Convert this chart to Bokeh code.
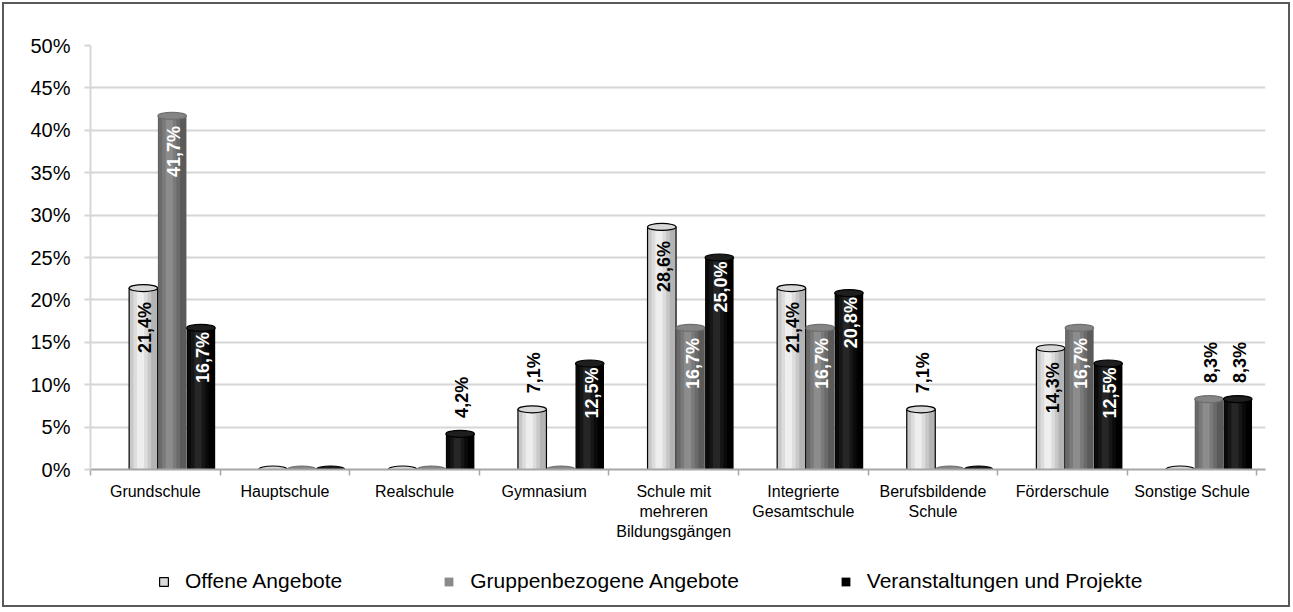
import numpy as np
from bokeh.plotting import figure
from bokeh.layouts import column
from bokeh.models import ColumnDataSource, Range1d, FixedTicker, Legend, LegendItem
from bokeh.transform import dodge
from bokeh.core.properties import value
from bokeh.embed import file_html
from bokeh.resources import INLINE

# ---------------- data ----------------
categories = ["Grundschule", "Hauptschule", "Realschule", "Gymnasium",
              "Schule mit\nmehreren\nBildungsgängen", "Integrierte\nGesamtschule",
              "Berufsbildende\nSchule", "Förderschule", "Sonstige Schule"]
series_names = ["Offene Angebote", "Gruppenbezogene Angebote", "Veranstaltungen und Projekte"]
offene = [21.4, 0.0, 0.0, 7.1, 28.6, 21.4, 7.1, 14.3, 0.0]
gruppen = [41.7, 0.0, 0.0, 0.0, 16.7, 16.7, 0.0, 16.7, 8.3]
veranst = [16.7, 0.0, 4.2, 12.5, 25.0, 20.8, 0.0, 12.5, 8.3]
y_ticks = [0, 5, 10, 15, 20, 25, 30, 35, 40, 45, 50]
y_tick_labels = ["0%", "5%", "10%", "15%", "20%", "25%", "30%", "35%", "40%", "45%", "50%"]

FONT = "Liberation Sans"

p = figure(width=1284, height=545,
           x_range=Range1d(-0.5, 8.566), y_range=Range1d(0, 50),
           output_backend="svg", toolbar_location=None,
           min_border_left=86, min_border_right=23, min_border_top=41, min_border_bottom=80,
           background_fill_color="white", border_fill_color="white")
p.outline_line_color = None

# grid
p.xgrid.visible = False
p.ygrid.ticker = FixedTicker(ticks=y_ticks)
p.ygrid.grid_line_color = "#d6d6d6"
p.ygrid.grid_line_width = 2

# y axis
p.yaxis.ticker = FixedTicker(ticks=y_ticks)
p.yaxis.major_label_overrides = {t: l for t, l in zip(y_ticks, y_tick_labels)}
p.yaxis.major_label_text_font = FONT
p.yaxis.major_label_text_font_size = "20px"
p.yaxis.major_label_text_color = "#000000"
p.yaxis.axis_line_color = "#d6d6d6"
p.yaxis.axis_line_width = 2
p.yaxis.major_tick_line_color = "#d6d6d6"
p.yaxis.major_tick_line_width = 2
p.yaxis.major_tick_out = 6
p.yaxis.major_tick_in = 0
p.yaxis.minor_tick_line_color = None
p.yaxis.major_label_standoff = 14

# x axis
idx = list(range(len(categories)))
p.xaxis.ticker = FixedTicker(ticks=idx, minor_ticks=[i - 0.5 for i in range(len(categories) + 1)])
p.xaxis.major_label_overrides = {i: c for i, c in zip(idx, categories)}
p.xaxis.major_label_text_font = FONT
p.xaxis.major_label_text_font_size = "16px"
p.xaxis.major_label_text_color = "#000000"
p.xaxis.axis_line_color = "#a6a6a6"
p.xaxis.axis_line_width = 2
p.xaxis.major_tick_line_color = None
p.xaxis.minor_tick_line_color = "#a6a6a6"
p.xaxis.minor_tick_line_width = 1.5
p.xaxis.minor_tick_out = 6
p.xaxis.minor_tick_in = 0
p.xaxis.major_label_standoff = 7

# ---------------- bars ----------------
W = 0.22
offsets = [-0.092, 0.130, 0.352]
styles = [
    dict(base="#b4b4b4", strips=["#c8c8c8", "#dcdcdc", "#eeeeee"], cap_fill="#d8d8d8",
         cap_line="#000000", outline="#000000", inside="#000000", in_off=14,
         leg_fill="#dcdcdc", leg_line="#000000"),
    dict(base="#5a5a5a", strips=["#6a6a6a", "#7a7a7a", "#8c8c8c"], cap_fill="#858585",
         cap_line="#707070", outline=None, inside="#ffffff", in_off=10,
         leg_fill="#8a8a8a", leg_line=None),
    dict(base="#000000", strips=["#0a0a0a", "#161616", "#262626"], cap_fill="#1e1e1e",
         cap_line="#000000", outline=None, inside="#ffffff", in_off=4,
         leg_fill="#000000", leg_line=None),
]
all_values = [offene, gruppen, veranst]


def fmt(v):
    return ("%.1f" % v).replace(".", ",") + "%"


# legend strip figure (below the chart)
p2 = figure(width=1284, height=56, x_range=Range1d(-0.5, 8.5), y_range=Range1d(0, 50),
            output_backend="svg", toolbar_location=None,
            x_axis_type=None, y_axis_type=None,
            min_border_left=0, min_border_right=0, min_border_top=0, min_border_bottom=0,
            background_fill_color="white", border_fill_color="white")
p2.outline_line_color = None
p2.grid.visible = False
items = []

for k, (vals, st, off) in enumerate(zip(all_values, styles, offsets)):
    src = ColumnDataSource(dict(x=idx, top=vals))
    p.vbar(x=dodge("x", off), top="top", bottom=0, width=W, source=src,
           fill_color=st["base"], line_color=None)
    hc = -0.1 * W
    for frac, col in zip([0.75, 0.5, 0.25], st["strips"]):
        p.vbar(x=dodge("x", off + hc), top="top", bottom=0, width=W * frac, source=src,
               fill_color=col, line_color=None)
    if st["outline"]:
        p.vbar(x=dodge("x", off), top="top", bottom=0, width=W, source=src,
               fill_alpha=0, line_color=st["outline"], line_width=1.2)
    p.ellipse(x=dodge("x", off), y="top", width=W, height=7, height_units="screen",
              source=src, fill_color=st["cap_fill"], line_color=st["cap_line"], line_width=1.2)

    # legend proxy (hidden, same series data)
    lr = p2.vbar(x="x", top="top", bottom=0, width=W, source=src,
                 fill_color=st["leg_fill"], line_color=st["leg_line"], line_width=1.2,
                 visible=False)
    items.append(LegendItem(label=series_names[k], renderers=[lr]))

    # labels
    ins = [(i, v) for i, v in zip(idx, vals) if v >= 10]
    outs = [(i, v) for i, v in zip(idx, vals) if 0 < v < 10]
    if ins:
        s_in = ColumnDataSource(dict(x=[a for a, _ in ins], y=[b for _, b in ins],
                                     t=[fmt(b) for _, b in ins]))
        p.text(x=dodge("x", off), y="y", text="t", source=s_in, angle=np.pi / 2,
               text_align="right", text_baseline="middle", x_offset=2, y_offset=st["in_off"],
               text_font=value(FONT), text_font_style="bold", text_font_size="18px",
               text_color=st["inside"])
    if outs:
        s_out = ColumnDataSource(dict(x=[a for a, _ in outs], y=[b for _, b in outs],
                                      t=[fmt(b) for _, b in outs]))
        p.text(x=dodge("x", off), y="y", text="t", source=s_out, angle=np.pi / 2,
               text_align="left", text_baseline="middle", x_offset=2, y_offset=-16,
               text_font=value(FONT), text_font_style="bold", text_font_size="18px",
               text_color="#000000")

legend = Legend(items=items, orientation="horizontal", location=(68, 12),
                glyph_width=11, glyph_height=11, label_standoff=16, spacing=101,
                label_text_font=FONT, label_text_font_size="21px", label_text_color="#000000",
                border_line_color=None, background_fill_alpha=0, padding=0, margin=0,
                inactive_fill_alpha=0, click_policy="none")
p2.add_layout(legend)

layout = column(p, p2, spacing=0)
layout.styles = {"border": "2px solid #595959", "margin": "2px"}

open("out.html", "w").write(file_html(layout, INLINE))
